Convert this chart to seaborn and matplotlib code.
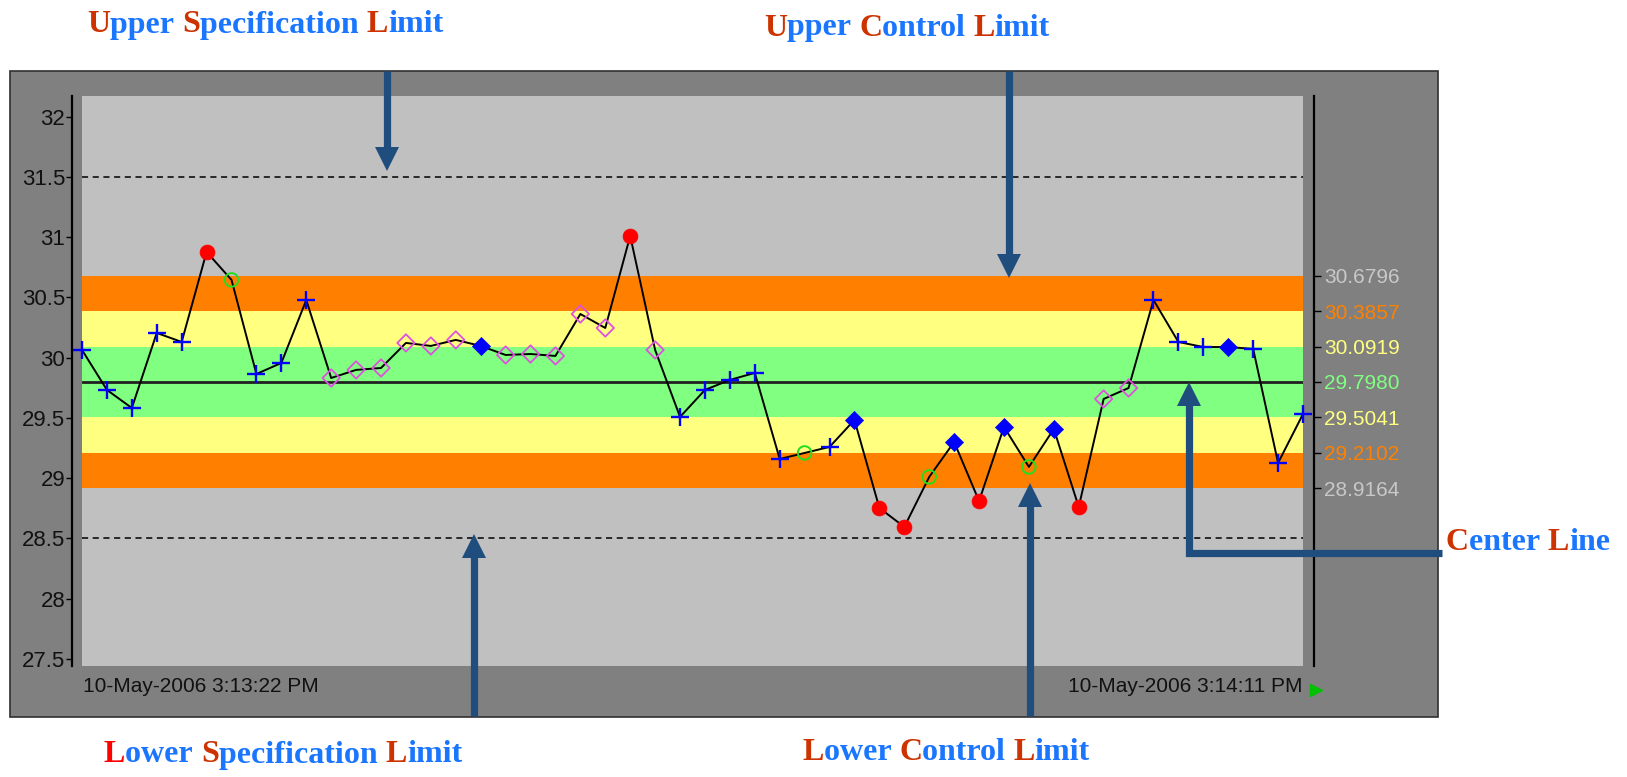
import matplotlib
matplotlib.use("Agg")
import matplotlib.pyplot as plt
from matplotlib.lines import Line2D
from matplotlib.patches import Rectangle, Polygon
from matplotlib.offsetbox import TextArea, HPacker, AnnotationBbox
import numpy as np
import pandas as pd
import seaborn as sns

W, H = 1627, 777

# measurements, one per second
values = [30.064, 29.732, 29.582, 30.205, 30.130, 30.877, 30.645, 29.864, 29.956, 30.478,
          29.831, 29.898, 29.914, 30.122, 30.097, 30.147, 30.097, 30.022, 30.030, 30.014,
          30.362, 30.246, 31.010, 30.064, 29.508, 29.732, 29.815, 29.873, 29.159, 29.209,
          29.259, 29.483, 28.752, 28.595, 29.010, 29.300, 28.810, 29.425, 29.093, 29.408,
          28.761, 29.657, 29.748, 30.478, 30.130, 30.088, 30.088, 30.072, 29.126, 29.532]
# + normal, R out of control, G warning, P trend, B run
status = ["+", "+", "+", "+", "+", "R", "G", "+", "+", "+",
          "P", "P", "P", "P", "P", "P", "B", "P", "P", "P",
          "P", "P", "R", "P", "+", "+", "+", "+", "+", "G",
          "+", "B", "R", "R", "G", "B", "R", "B", "G", "B",
          "R", "P", "P", "+", "+", "+", "B", "+", "+", "+"]

limits = [28.9164, 29.2102, 29.5041, 29.7980, 30.0919, 30.3857, 30.6796]
limit_labels = ["28.9164", "29.2102", "29.5041", "29.7980", "30.0919", "30.3857", "30.6796"]
limit_colors = ["#c8c8c8", "#ff8000", "#ffff80", "#80ff80", "#ffff80", "#ff8000", "#c8c8c8"]
zone_colors = ["#ff8000", "#ffff80", "#80ff80", "#80ff80", "#ffff80", "#ff8000"]
center = 29.7980
spec_limits = [28.5, 31.5]
y_ticks = [27.5, 28, 28.5, 29, 29.5, 30, 30.5, 31, 31.5, 32]
y_tick_labels = ["27.5", "28", "28.5", "29", "29.5", "30", "30.5", "31", "31.5", "32"]
start_label = "10-May-2006 3:13:22 PM"
end_label = "10-May-2006 3:14:11 PM"

df = pd.DataFrame({"t": np.arange(len(values)), "value": values, "status": status})

sns.set_style("white")
plt.rcParams["font.family"] = ["Liberation Sans", "DejaVu Sans"]

fig = plt.figure(figsize=(W / 100, H / 100), dpi=100)
fig.patch.set_facecolor("white")


def fx(x):
    return x / W


def fy(y):
    return 1 - y / H


# dark grey chart panel
fig.add_artist(Rectangle((fx(10), fy(717)), fx(1428), (717 - 71) / H, transform=fig.transFigure,
                         facecolor="#808080", edgecolor="#303030", lw=1.2, zorder=0))

ax = fig.add_axes([fx(82), fy(666), fx(1303 - 82), (666 - 96) / H])
ax.set_facecolor("#c0c0c0")
ax.set_xlim(0, len(values) - 1)
ax.set_ylim(27.441, 32.171)

for lo, hi, c in zip(limits[:-1], limits[1:], zone_colors):
    ax.axhspan(lo, hi, color=c, lw=0, zorder=1)
ax.axhline(center, color="#202020", lw=2, zorder=2)
for s in spec_limits:
    ax.axhline(s, color="black", lw=1.1, ls=(0, (4, 3)), zorder=2)

sns.lineplot(data=df, x="t", y="value", color="black", lw=1.4, ax=ax, zorder=3)

styles = {
    "+": dict(marker="+", color="#0000ff", s=160, linewidth=1.7),
    "R": dict(marker="o", color="#ff0000", edgecolor="#ff0000", s=115, linewidth=0.5),
    "G": dict(marker="o", color="#22dd22", facecolors="none", edgecolors="#22dd22", s=95, linewidth=1.4),
    "P": dict(marker="D", color="#e050e0", facecolors="none", edgecolors="#e050e0", s=78, linewidth=1.3),
    "B": dict(marker="D", color="#0000ff", edgecolor="#0000ff", s=85, linewidth=0.5),
}
for key, kw in styles.items():
    sub = df[df["status"] == key]
    sns.scatterplot(data=sub, x="t", y="value", ax=ax, zorder=4, clip_on=False, legend=False, **kw)

ax.set_xlabel("")
ax.set_ylabel("")
ax.set_xticks([])
for side in ["top", "bottom", "right"]:
    ax.spines[side].set_visible(False)
ax.spines["left"].set_position(("outward", 7))
ax.spines["left"].set_color("black")
ax.spines["left"].set_linewidth(1.6)
ax.set_yticks(y_ticks)
ax.set_yticklabels(y_tick_labels)
ax.tick_params(axis="y", direction="out", length=4, width=1, color="black", pad=1,
               labelsize=16, labelcolor="#111111", left=True)

ax2 = ax.twinx()
ax2.set_ylim(ax.get_ylim())
for side in ["top", "bottom", "left"]:
    ax2.spines[side].set_visible(False)
ax2.spines["right"].set_position(("outward", 8))
ax2.spines["right"].set_color("black")
ax2.spines["right"].set_linewidth(1.6)
ax2.set_yticks(limits)
ax2.set_yticklabels(limit_labels)
ax2.tick_params(axis="y", direction="out", length=5, width=1, color="black", pad=2, labelsize=15, right=True)
for lab, c in zip(ax2.get_yticklabels(), limit_colors):
    lab.set_color(c)

fig.text(fx(83), fy(686), start_label, ha="left", va="center", fontsize=15, color="#111111")
fig.text(fx(1302), fy(686), end_label, ha="right", va="center", fontsize=15, color="#111111")
fig.add_artist(Line2D([fx(1316)], [fy(690)], marker=">", markersize=9, color="#00c000",
                      transform=fig.transFigure, lw=0))

# arrows
arrow_color = "#1f4e7e"


def arrow(path, tip):
    xs = [fx(p[0]) for p in path]
    ys = [fy(p[1]) for p in path]
    fig.add_artist(Line2D(xs, ys, color=arrow_color, lw=5.2, solid_capstyle="butt",
                          solid_joinstyle="miter", transform=fig.transFigure, zorder=5))
    (x0, y0), (x1, y1) = path[-1], tip
    d = np.array([x1 - x0, y1 - y0], dtype=float)
    d /= np.linalg.norm(d)
    n = np.array([-d[1], d[0]])
    base = np.array([x1, y1]) - d * 24
    pts = [np.array([x1, y1]), base + n * 12, base - n * 12]
    fig.add_artist(Polygon([(fx(p[0]), fy(p[1])) for p in pts], closed=True, color=arrow_color,
                           transform=fig.transFigure, zorder=5, lw=0))


arrow([(387, 71), (387, 150)], (387, 171))
arrow([(1009, 71), (1009, 257)], (1009, 278))
arrow([(474, 716), (474, 556)], (474, 534))
arrow([(1030, 716), (1030, 505)], (1030, 483))
arrow([(1442, 553), (1189, 553), (1189, 405)], (1189, 382))


def label(parts, x, y):
    areas = [TextArea(t, textprops=dict(color=c, fontsize=23, fontweight="bold",
                                        family=["Liberation Serif", "DejaVu Serif"])) for t, c in parts]
    box = HPacker(children=areas, align="baseline", pad=0, sep=0)
    ab = AnnotationBbox(box, (fx(x), fy(y)), xycoords="figure fraction", frameon=False,
                        box_alignment=(0.5, 0.5), pad=0)
    fig.add_artist(ab)


red, blue = "#cc3300", "#1a75ff"
label([("U", red), ("pper\u00a0", blue), ("S", red), ("pecification\u00a0", blue), ("L", red), ("imit", blue)], 265, 25)
label([("U", red), ("pper\u00a0", blue), ("C", red), ("ontrol\u00a0", blue), ("L", red), ("imit", blue)], 907, 28)
label([("L", "#ff0000"), ("ower\u00a0", blue), ("S", red), ("pecification\u00a0", blue), ("L", red), ("imit", blue)], 283, 755)
label([("L", red), ("ower\u00a0", blue), ("C", red), ("ontrol\u00a0", blue), ("L", red), ("imit", blue)], 946, 752)
label([("C", red), ("enter\u00a0", blue), ("L", red), ("ine", blue)], 1528, 543)

fig.savefig("out.png", dpi=100)
